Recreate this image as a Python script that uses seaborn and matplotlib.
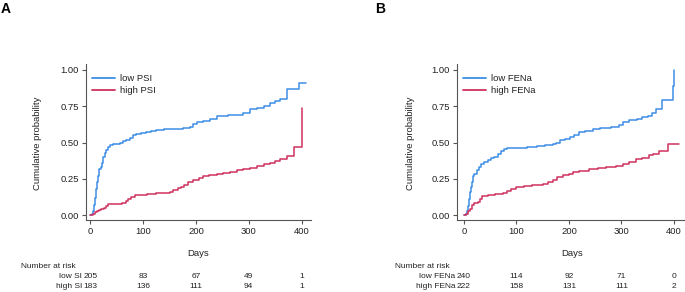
import numpy as np
import pandas as pd
import matplotlib
matplotlib.use("Agg")
import matplotlib.pyplot as plt
import matplotlib.transforms as mtransforms
import seaborn as sns

# ---------------- data ----------------
# Panel A
low_psi_t = [0, 3, 5, 7, 9, 11, 13, 15, 17, 19, 21, 24, 27, 30, 34, 37, 42, 49, 56, 62, 68, 74, 80, 87,
             95, 106, 115, 125, 140, 163, 176, 189, 195, 201, 214, 227, 240, 260, 290, 303, 315, 328,
             341, 350, 360, 373, 395, 409]
low_psi_v = [0, 0.01, 0.03, 0.07, 0.12, 0.18, 0.23, 0.27, 0.32, 0.33, 0.36, 0.40, 0.43, 0.45, 0.47, 0.48,
             0.49, 0.49, 0.50, 0.51, 0.52, 0.53, 0.55, 0.56, 0.565, 0.575, 0.58, 0.585, 0.59, 0.595, 0.60,
             0.61, 0.625, 0.64, 0.65, 0.665, 0.68, 0.69, 0.70, 0.73, 0.74, 0.755, 0.775, 0.785, 0.80,
             0.87, 0.91, 0.91]
high_psi_t = [0, 4, 8, 12, 16, 20, 25, 30, 34, 45, 60, 68, 72, 76, 85, 95, 108, 125, 140, 150, 157, 165,
              171, 178, 184, 195, 206, 214, 225, 240, 252, 265, 277, 290, 303, 315, 328, 340, 350, 360,
              372, 385, 400]
high_psi_v = [0, 0.01, 0.02, 0.025, 0.035, 0.045, 0.05, 0.065, 0.075, 0.078, 0.08, 0.095, 0.11, 0.126,
              0.135, 0.14, 0.145, 0.15, 0.155, 0.16, 0.17, 0.185, 0.195, 0.21, 0.23, 0.245, 0.253, 0.27,
              0.275, 0.285, 0.29, 0.30, 0.31, 0.32, 0.325, 0.335, 0.355, 0.36, 0.37, 0.385, 0.41, 0.47,
              0.74]

# Panel B
low_fena_t = [0, 4, 6, 8, 10, 12, 14, 16, 18, 20, 24, 28, 32, 38, 45, 52, 58, 64, 70, 76, 82, 100, 120,
              140, 155, 169, 176, 182, 192, 201, 210, 220, 230, 245, 260, 280, 296, 302, 315, 330, 340,
              350, 359, 365, 377, 398, 400]
low_fena_v = [0, 0.01, 0.03, 0.06, 0.11, 0.16, 0.19, 0.23, 0.27, 0.28, 0.31, 0.33, 0.35, 0.365, 0.38,
              0.39, 0.40, 0.42, 0.44, 0.455, 0.46, 0.465, 0.47, 0.475, 0.48, 0.49, 0.50, 0.515, 0.525,
              0.54, 0.555, 0.57, 0.58, 0.59, 0.60, 0.61, 0.62, 0.64, 0.655, 0.665, 0.675, 0.685, 0.70,
              0.73, 0.79, 0.89, 1.0]
high_fena_t = [0, 4, 8, 12, 15, 20, 27, 31, 35, 45, 60, 75, 81, 90, 100, 115, 130, 150, 160, 169, 178,
               188, 200, 207, 220, 239, 255, 270, 290, 302, 315, 327, 340, 353, 360, 372, 388, 410]
high_fena_v = [0, 0.01, 0.025, 0.045, 0.07, 0.08, 0.09, 0.11, 0.13, 0.14, 0.145, 0.15, 0.165, 0.18,
               0.195, 0.20, 0.207, 0.215, 0.225, 0.24, 0.26, 0.275, 0.285, 0.295, 0.305, 0.315, 0.325,
               0.33, 0.34, 0.35, 0.365, 0.385, 0.395, 0.415, 0.42, 0.44, 0.49, 0.49]

x_ticks = [0, 100, 200, 300, 400]
y_ticks = [0.0, 0.25, 0.5, 0.75, 1.0]

risk_labels_a = ["low SI", "high SI"]
risk_a = [[205, 83, 67, 49, 1], [183, 136, 111, 94, 1]]
risk_labels_b = ["low FENa", "high FENa"]
risk_b = [[240, 114, 92, 71, 0], [222, 158, 131, 111, 2]]

legend_a = ["low PSI", "high PSI"]
legend_b = ["low FENa", "high FENa"]

# ---------------- style ----------------
sns.set_style("ticks")
plt.rcParams["font.family"] = ["Liberation Sans", "DejaVu Sans"]

BLUE = "#3d8ee6"
RED = "#d0325e"
AX_COL = "#555555"
TXT = "#222222"

W, H = 685, 292
fig = plt.figure(figsize=(W / 100, H / 100), dpi=100)


def px_axes(left, right, top, bottom):
    return fig.add_axes([left / W, 1 - bottom / H, (right - left) / W, (bottom - top) / H])


def panel(ax, t1, v1, t2, v2, names, xlim, letter, letter_xy, ylab_x, risk_labels, risk_rows,
          nar_x, days_x):
    df = pd.concat([
        pd.DataFrame({"Days": t1, "p": v1, "g": names[0]}),
        pd.DataFrame({"Days": t2, "p": v2, "g": names[1]}),
    ])
    sns.lineplot(data=df, x="Days", y="p", hue="g", palette=[BLUE, RED], estimator=None,
                 drawstyle="steps-post", linewidth=1.1, ax=ax)
    ax.set_xlim(*xlim)
    ax.set_ylim(-0.034, 1.041)
    ax.set_xticks(x_ticks)
    ax.set_yticks(y_ticks)
    ax.set_yticklabels([f"{v:.2f}" for v in y_ticks])
    ax.set_xlabel("")
    ax.set_ylabel("")
    for s in ["top", "right"]:
        ax.spines[s].set_visible(False)
    for s in ["left", "bottom"]:
        ax.spines[s].set_color(AX_COL)
        ax.spines[s].set_linewidth(0.8)
    ax.tick_params(axis="both", labelsize=6.8, colors=AX_COL, labelcolor=TXT, length=3,
                   width=0.8, pad=2)
    sns.move_legend(ax, "upper left", bbox_to_anchor=(0.015, 0.955), frameon=False, title=None,
                    fontsize=6.8, handlelength=2.4, handletextpad=0.5, labelspacing=0.35,
                    borderaxespad=0, borderpad=0.3)
    for t in ax.get_legend().get_texts():
        t.set_color(TXT)
    for l in ax.get_legend().get_lines():
        l.set_linewidth(1.3)

    fig.text(letter_xy[0] / W, 1 - letter_xy[1] / H, letter, fontsize=10, fontweight="bold",
             ha="left", va="top", color="black")
    fig.text(ylab_x / W, 1 - 143 / H, "Cumulative probability", rotation=90, fontsize=6.8,
             ha="center", va="center", color=TXT)
    fig.text(days_x / W, 1 - 254 / H, "Days", fontsize=6.8, ha="center", va="center", color=TXT)
    fig.text(nar_x / W, 1 - 266 / H, "Number at risk", fontsize=6.0, ha="left", va="center",
             color=TXT)
    trans = mtransforms.blended_transform_factory(ax.transData, fig.transFigure)
    for r, (lab, row) in enumerate(zip(risk_labels, risk_rows)):
        yy = 1 - (276 + 10 * r) / H
        ax.text(-16, yy, lab, transform=trans, fontsize=6.0, ha="right", va="center",
                color=TXT, clip_on=False)
        for xv, n in zip(x_ticks, row):
            ax.text(xv, yy, str(n), transform=trans, fontsize=6.0, ha="center", va="center",
                    color=TXT, clip_on=False)


axA = px_axes(86, 311, 64, 220)
panel(axA, low_psi_t, low_psi_v, high_psi_t, high_psi_v, legend_a, (-8.5, 418), "A", (1, 2),
      38, risk_labels_a, risk_a, 21, 198)

axB = px_axes(457, 685, 64, 220)
panel(axB, low_fena_t, low_fena_v, high_fena_t, high_fena_v, legend_b, (-13.3, 421), "B",
      (375, 2), 410, risk_labels_b, risk_b, 395, 572)

fig.savefig("out.png", dpi=100)
